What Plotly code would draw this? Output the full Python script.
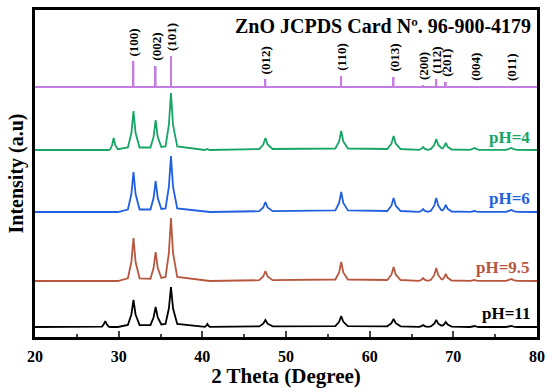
import plotly.graph_objects as go

# ---- data ----
two_theta = [20,
    28.0, 28.22, 28.4, 28.58, 28.8,
    29.0, 29.22, 29.4, 29.58, 29.9,
    31.1, 31.52, 31.77, 32.02, 32.5,
    33.8, 34.17, 34.42, 34.67, 35.1,
    35.6, 36.0, 36.25, 36.5, 37.0,
    40.3, 40.48, 40.6, 40.72, 40.9,
    46.8, 47.28, 47.54, 47.8, 48.4,
    55.9, 56.35, 56.6, 56.85, 57.4,
    62.1, 62.6, 62.86, 63.12, 63.7,
    65.9, 66.2, 66.38, 66.56, 66.9,
    67.3, 67.72, 67.96, 68.2, 68.55,
    68.7, 68.88, 69.1, 69.32, 69.8,
    72.0, 72.35, 72.56, 72.77, 73.1,
    76.3, 76.7, 76.95, 77.2, 77.6,
    80]

ph4 = [0,
    0, 0, 0, 0, 0,
    0.8, 5, 12, 5, 0.8,
    2.5, 17, 39, 17, 2.5,
    2.5, 13, 30, 13, 3,
    3.5, 25, 57, 25, 3.5,
    0, 0.4, 1, 0.4, 0,
    1, 5.5, 12, 5.5, 1,
    1.5, 8.5, 19, 8.5, 1.5,
    1, 6.3, 14, 6.3, 1,
    0.2, 1.3, 3, 1.3, 0.2,
    0.9, 5, 11, 5, 2,
    1.6, 3.2, 7, 3.2, 0.5,
    0.1, 0.9, 2, 0.9, 0.1,
    0.1, 0.9, 2, 0.9, 0.1,
    0]

ph6 = [0,
    0, 0, 0, 0, 0,
    0, 0, 0, 0, 0,
    2.5, 18, 40, 18, 2.5,
    2.5, 14, 31, 14, 3,
    3.5, 25, 56, 25, 3.5,
    0, 0, 0, 0, 0,
    0.8, 4.5, 10, 4.5, 0.8,
    1.6, 9, 20, 9, 1.6,
    1, 6.3, 14, 6.3, 1,
    0.2, 1.3, 3, 1.3, 0.2,
    1, 6.3, 14, 6.3, 2,
    1.6, 3.2, 7, 3.2, 0.5,
    0.1, 0.45, 1, 0.45, 0.1,
    0.1, 0.9, 2, 0.9, 0.1,
    0]

ph95 = [0,
    0, 0, 0, 0, 0,
    0, 0, 0, 0, 0,
    2.7, 19, 43, 19, 2.7,
    2.3, 13, 29, 13, 3,
    4, 28, 63, 28, 4,
    0, 0, 0, 0, 0,
    0.8, 4.5, 10, 4.5, 0.8,
    1.5, 8.5, 19, 8.5, 1.5,
    1, 6.3, 14, 6.3, 1,
    0.2, 1.3, 3, 1.3, 0.2,
    1, 5.8, 13, 5.8, 2,
    1.6, 3.2, 7, 3.2, 0.5,
    0.1, 0.45, 1, 0.45, 0.1,
    0.1, 0.9, 2, 0.9, 0.1,
    0]

ph11 = [0,
    0.4, 2.7, 6, 2.7, 0.4,
    0, 0, 0, 0, 0,
    2, 12.5, 27, 12.5, 2,
    1.8, 9.5, 20, 9.5, 2.5,
    3, 18.5, 40, 18.5, 3,
    0.2, 1.3, 3, 1.3, 0.2,
    0.6, 3.3, 7, 3.3, 0.6,
    0.9, 5.2, 11, 5.2, 0.9,
    0.7, 3.8, 8, 3.8, 0.7,
    0.1, 0.9, 2, 0.9, 0.1,
    0.6, 3.3, 7, 3.3, 1.5,
    1.4, 2.4, 5, 2.4, 0.4,
    0, 0.45, 1, 0.45, 0,
    0, 0.45, 1, 0.45, 0,
    0]

card_pos = [31.77, 34.42, 36.25, 47.54, 56.6, 62.86, 66.38, 67.96, 69.1, 72.56, 76.95]
card_int = [26, 21, 31, 8, 11, 10, 2, 8, 5, 1, 1]
card_hkl = ["(100)", "(002)", "(101)", "(012)", "(110)", "(013)", "(200)", "(112)", "(201)", "(004)", "(011)"]

series_names = ["pH=11", "pH=9.5", "pH=6", "pH=4"]
series_vals = [ph11, ph95, ph6, ph4]

# ---- layout / style ----
offsets = [10, 56, 125, 187]
card_offset = 250
colors = ["#000000", "#b8573f", "#1f5fe0", "#17a566"]
card_color = "#c47ee0"
label_y = [24, 70, 139, 200]
FONT = "Liberation Serif"

fig = go.Figure()
for name, vals, off, col in zip(series_names, series_vals, offsets, colors):
    fig.add_trace(go.Scatter(x=two_theta, y=[off + v for v in vals], mode="lines",
                             line=dict(color=col, width=1.8), name=name, showlegend=False))

fig.add_trace(go.Bar(x=card_pos, y=card_int, base=card_offset, width=0.22,
                     marker=dict(color=card_color, line=dict(width=0)), showlegend=False))
fig.add_shape(type="line", xref="paper", x0=0, x1=1, yref="y", y0=card_offset, y1=card_offset,
              line=dict(color=card_color, width=2))

for p, h, t in zip(card_pos, card_int, card_hkl):
    fig.add_annotation(x=p, y=card_offset + h, text=t, textangle=-90, showarrow=False,
                       xanchor="center", yanchor="bottom", yshift=3,
                       font=dict(family=FONT, size=13, color="black", weight="bold"))

for name, ly, col in zip(series_names, label_y, colors):
    fig.add_annotation(x=0.99, xref="paper", y=ly, text=name, showarrow=False,
                       xanchor="right", yanchor="middle",
                       font=dict(family=FONT, size=17, color=col, weight="bold"))

fig.add_annotation(x=0.992, xref="paper", y=0.952, yref="paper",
                   text="ZnO JCPDS Card Nº. 96-900-4179", showarrow=False,
                   xanchor="right", yanchor="middle",
                   font=dict(family=FONT, size=20, color="black", weight="bold"))

fig.update_layout(
    width=550, height=388,
    margin=dict(l=35, r=13, t=10, b=51),
    paper_bgcolor="white", plot_bgcolor="white",
    font=dict(family=FONT, color="black"),
    xaxis=dict(range=[20, 80], dtick=10, ticks="inside", ticklen=6, tickwidth=2,
               minor=dict(dtick=5, ticks="inside", ticklen=3, tickwidth=2),
               showline=True, linewidth=2.5, linecolor="black", mirror=True,
               showgrid=False, zeroline=False, automargin=False,
               ticklabelstandoff=3,
               tickfont=dict(family=FONT, size=16, weight="bold"),
               title=dict(text="2 Theta (Degree)", standoff=2,
                          font=dict(family=FONT, size=21, weight="bold"))),
    yaxis=dict(range=[0, 327], showticklabels=False, ticks="",
               showline=True, linewidth=2.5, linecolor="black", mirror=True,
               showgrid=False, zeroline=False, automargin=False,
               title=dict(text="Intensity (a.u)", standoff=4,
                          font=dict(family=FONT, size=20, weight="bold"))),
)

fig.write_html("out.html", config={"displayModeBar": False},
               post_script="document.body.style.margin='0';")
